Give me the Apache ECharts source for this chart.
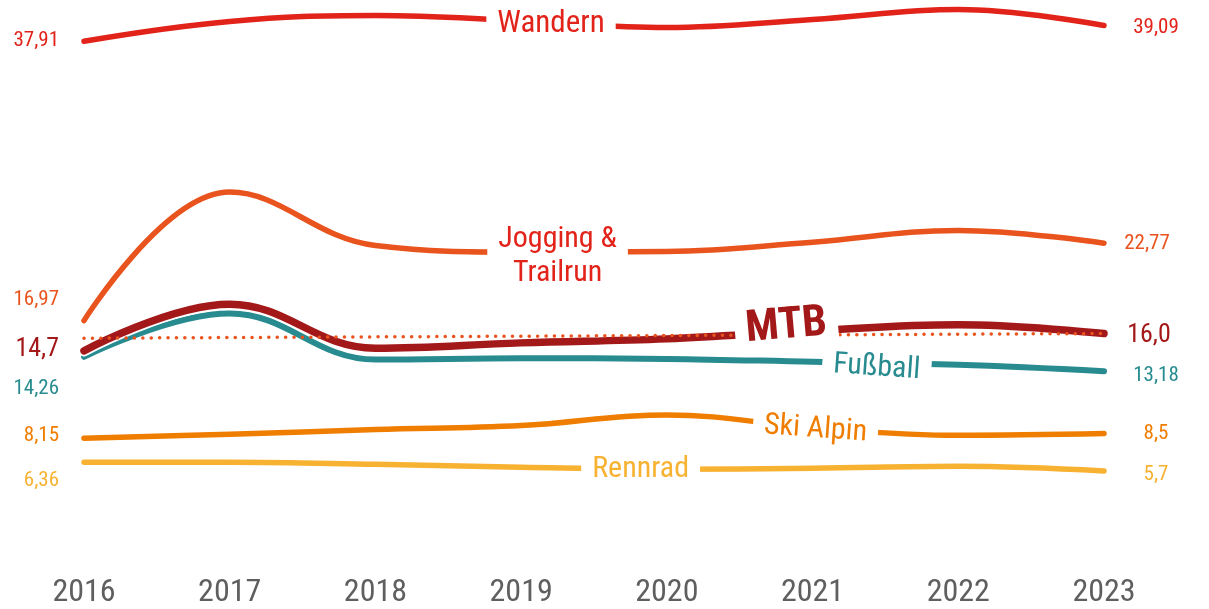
<!DOCTYPE html>
<html><head><meta charset="utf-8">
<script src="https://cdn.jsdelivr.net/npm/echarts@6/dist/echarts.min.js"></script>
<style>html,body{margin:0;padding:0;background:#fff}#c{width:1209px;height:609px}</style>
</head><body><div id="c"></div>
<script>
// ---- data ----
const years    = [2016, 2017, 2018, 2019, 2020, 2021, 2022, 2023];
const wandern  = [37.91, 39.39, 39.84, 39.45, 38.94, 39.54, 40.28, 39.09];
const jogging  = [16.97, 26.6, 22.6, 22.1, 22.15, 22.85, 23.73, 22.77];
const mtb      = [14.7, 18.2, 14.9, 15.3, 15.6, 16.2, 16.65, 16.0];
const fussball = [14.26, 17.5, 14.05, 14.15, 14.1, 13.88, 13.66, 13.18];
const skiAlpin = [8.15, 8.45, 8.8, 9.1, 9.9, 8.95, 8.37, 8.5];
const rennrad  = [6.36, 6.36, 6.2, 5.98, 5.83, 5.9, 6.05, 5.7];
const mtbRefLine = [15.65, 16.0];   // dotted reference line, start and end value
const names = ['Wandern', 'Jogging &\nTrailrun', 'MTB', 'Fußball', 'Ski Alpin', 'Rennrad'];

// ---- styles ----
const FONT = "'Liberation Sans Narrow','Roboto Condensed','DejaVu Sans Condensed',sans-serif";
const styles = {
  'Wandern':            {color:'#e2231a', width:5.5, lab:[2019.205, 39.2], rot:0, fs:31, l:[0], r:[0, 2]},
  'Jogging &\nTrailrun':{color:'#e9541e', width:5.5, lab:[2019.25, 21.75], rot:0, fs:30, l:[-21], r:[-9, 1], textColor:'#e2231a'},
  'MTB':                {color:'#a3191a', width:7.5, lab:[2020.82, 16.5], rot:5, fs:44, bold:true, l:[-1], r:[-7, 2], big:true},
  'Fußball':            {color:'#288b8f', width:6, lab:[2021.44, 13.44], rot:-4, fs:30, l:[32], r:[0, 5]},
  'Ski Alpin':          {color:'#ef7d00', width:5.5, lab:[2021.02, 8.82], rot:-4, fs:30, l:[-3], r:[0, 0]},
  'Rennrad':            {color:'#f8b232', width:5.5, lab:[2019.82, 5.79], rot:0, fs:30, l:[19], r:[0, 4]}
};
const valuesList = [wandern, jogging, mtb, fussball, skiAlpin, rennrad];

const fmt = v => (Number.isInteger(v) ? v.toFixed(1) : String(v)).replace('.', ',');

function makeSeries(name, values, st) {
  const last = years.length - 1;
  const numSize = st.big ? 26 : 21;
  return {
    type: 'line', name: name, smooth: 0.4, showSymbol: false, symbol: 'none',
    data: years.map((y, i) => [y, values[i]]),
    lineStyle: {color: st.color, width: st.width, cap: 'round', join: 'round'},
    z: 2,
    markPoint: {
      symbol: 'circle', symbolSize: 1, itemStyle: {color: 'rgba(0,0,0,0)'}, z: 5,
      animation: false,
      data: [
        {coord: [years[0], values[0]], label: {show: true, position: 'inside', formatter: fmt(values[0]),
          align: 'right', offset: [-25, st.l[0]], color: st.color, fontSize: numSize, fontFamily: FONT}},
        {coord: [years[last], values[last]], label: {show: true, position: 'inside', formatter: fmt(values[last]),
          align: 'center', offset: [52 + st.r[0], st.r[1]], color: st.color, fontSize: numSize, fontFamily: FONT}},
        {coord: st.lab, label: {show: true, position: 'inside', formatter: name, align: 'center',
          rotate: st.rot, color: st.textColor || st.color, fontSize: st.fs, fontFamily: FONT,
          fontWeight: st.bold ? 'bold' : 'normal', lineHeight: 34,
          backgroundColor: '#ffffff', padding: [0, 11]}}
      ]
    }
  };
}

const series = [];
// order: bottom to top
const order = [5, 4, 0, 1, 3];
order.forEach(i => series.push(makeSeries(names[i], valuesList[i], styles[names[i]])));
// white halo under MTB
series.push({type: 'line', smooth: 0.4, showSymbol: false, symbol: 'none', z: 2, silent: true,
  data: years.map((y, i) => [y, mtb[i]]),
  lineStyle: {color: '#ffffff', width: 11, cap: 'round'}});
series.push(makeSeries(names[2], mtb, styles['MTB']));
// dotted reference line
series.push({type: 'line', showSymbol: false, symbol: 'none', z: 3, silent: true,
  data: [[years[0], mtbRefLine[0]], [years[years.length - 1], mtbRefLine[1]]],
  lineStyle: {color: '#e9541e', width: 3.5, type: [0.1, 8.3], cap: 'round'}});

const chart = echarts.init(document.getElementById('c'), null, {renderer: 'canvas'});
chart.setOption({
  animation: false,
  backgroundColor: '#ffffff',
  grid: {left: 84, right: 105, top: 0, bottom: 59, containLabel: false},
  xAxis: {type: 'value', min: years[0], max: years[years.length - 1], interval: 1,
    axisLine: {show: false}, axisTick: {show: false}, splitLine: {show: false},
    axisLabel: {formatter: v => String(v), fontSize: 32, color: '#5f5f5f', margin: 30, fontFamily: FONT}},
  yAxis: {type: 'value', min: 0, max: 41, show: false, splitLine: {show: false}},
  series: series
});
</script>
</body></html>
